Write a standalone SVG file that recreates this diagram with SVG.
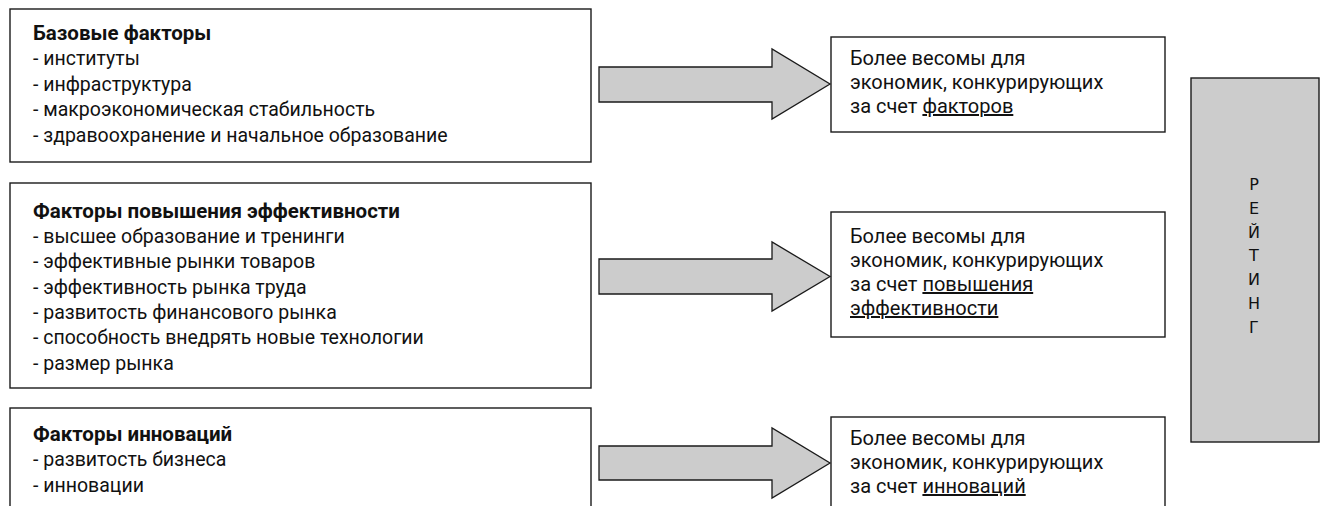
<svg xmlns="http://www.w3.org/2000/svg" width="1323" height="506" viewBox="0 0 1323 506">
<style>
.box{fill:#fff;stroke:#1a1a1a;stroke-width:1.4}
.rate{fill:#cccccc;stroke:#1a1a1a;stroke-width:1.4}
.arrow{fill:#cccccc;stroke:#1a1a1a;stroke-width:1.3;stroke-linejoin:miter}
.t{font-family:Roboto,"Noto Sans","Liberation Sans",sans-serif;font-size:19.5px;fill:#111}
.s{font-size:20px}
.b{font-weight:bold;font-size:20.5px}
.r{font-family:"DejaVu Sans","Liberation Sans",sans-serif;font-size:16px;fill:#111;text-anchor:middle}
.u{text-decoration:underline}
</style>
<rect width="1323" height="506" fill="#fff"/>
<g id="basic">
<rect class="box" x="10" y="9" width="581" height="153"/>
<text class="t b" x="33" y="40">Базовые факторы</text>
<text class="t" x="33" y="65">- институты</text>
<text class="t" x="33" y="91">- инфраструктура</text>
<text class="t" x="33" y="116">- макроэкономическая стабильность</text>
<text class="t" x="33" y="142">- здравоохранение и начальное образование</text>
</g>
<g id="efficiency">
<rect class="box" x="10" y="183" width="581" height="205"/>
<text class="t b" x="33" y="218">Факторы повышения эффективности</text>
<text class="t" x="33" y="243">- высшее образование и тренинги</text>
<text class="t" x="33" y="268">- эффективные рынки товаров</text>
<text class="t" x="33" y="294">- эффективность рынка труда</text>
<text class="t" x="33" y="319">- развитость финансового рынка</text>
<text class="t" x="33" y="344">- способность внедрять новые технологии</text>
<text class="t" x="33" y="370">- размер рынка</text>
</g>
<g id="innovation">
<rect class="box" x="10" y="408" width="581" height="120"/>
<text class="t b" x="33" y="441">Факторы инноваций</text>
<text class="t" x="33" y="466">- развитость бизнеса</text>
<text class="t" x="33" y="492">- инновации</text>
</g>
<g id="result1">
<rect class="box" x="831" y="37" width="334" height="95"/>
<text class="t s" x="850" y="65">Более весомы для</text>
<text class="t s" x="850" y="89">экономик, конкурирующих</text>
<text class="t s" x="850" y="113">за счет <tspan class="u">факторов</tspan></text>
</g>
<g id="result2">
<rect class="box" x="831" y="212" width="334" height="125"/>
<text class="t s" x="850" y="243">Более весомы для</text>
<text class="t s" x="850" y="267">экономик, конкурирующих</text>
<text class="t s" x="850" y="291">за счет <tspan class="u">повышения</tspan></text>
<text class="t s" x="850" y="315"><tspan class="u">эффективности</tspan></text>
</g>
<g id="result3">
<rect class="box" x="831" y="417" width="334" height="110"/>
<text class="t s" x="850" y="445">Более весомы для</text>
<text class="t s" x="850" y="469">экономик, конкурирующих</text>
<text class="t s" x="850" y="493">за счет <tspan class="u">инноваций</tspan></text>
</g>
<g id="rating">
<rect class="rate" x="1191" y="78" width="128" height="364"/>
<text class="r" x="1254" y="190">Р</text>
<text class="r" x="1254" y="214">Е</text>
<text class="r" x="1254" y="238">Й</text>
<text class="r" x="1254" y="261">Т</text>
<text class="r" x="1254" y="285">И</text>
<text class="r" x="1254" y="309">Н</text>
<text class="r" x="1254" y="333">Г</text>
</g>
<g id="connectors">
<polygon class="arrow" points="599,67 772,67 772,49 830,84 772,119 772,102 599,102"/>
<polygon class="arrow" points="599,259 772,259 772,242 830,276.5 772,311 772,294 599,294"/>
<polygon class="arrow" points="599,446 772,446 772,428 830,463 772,498 772,480 599,480"/>
</g>
</svg>
